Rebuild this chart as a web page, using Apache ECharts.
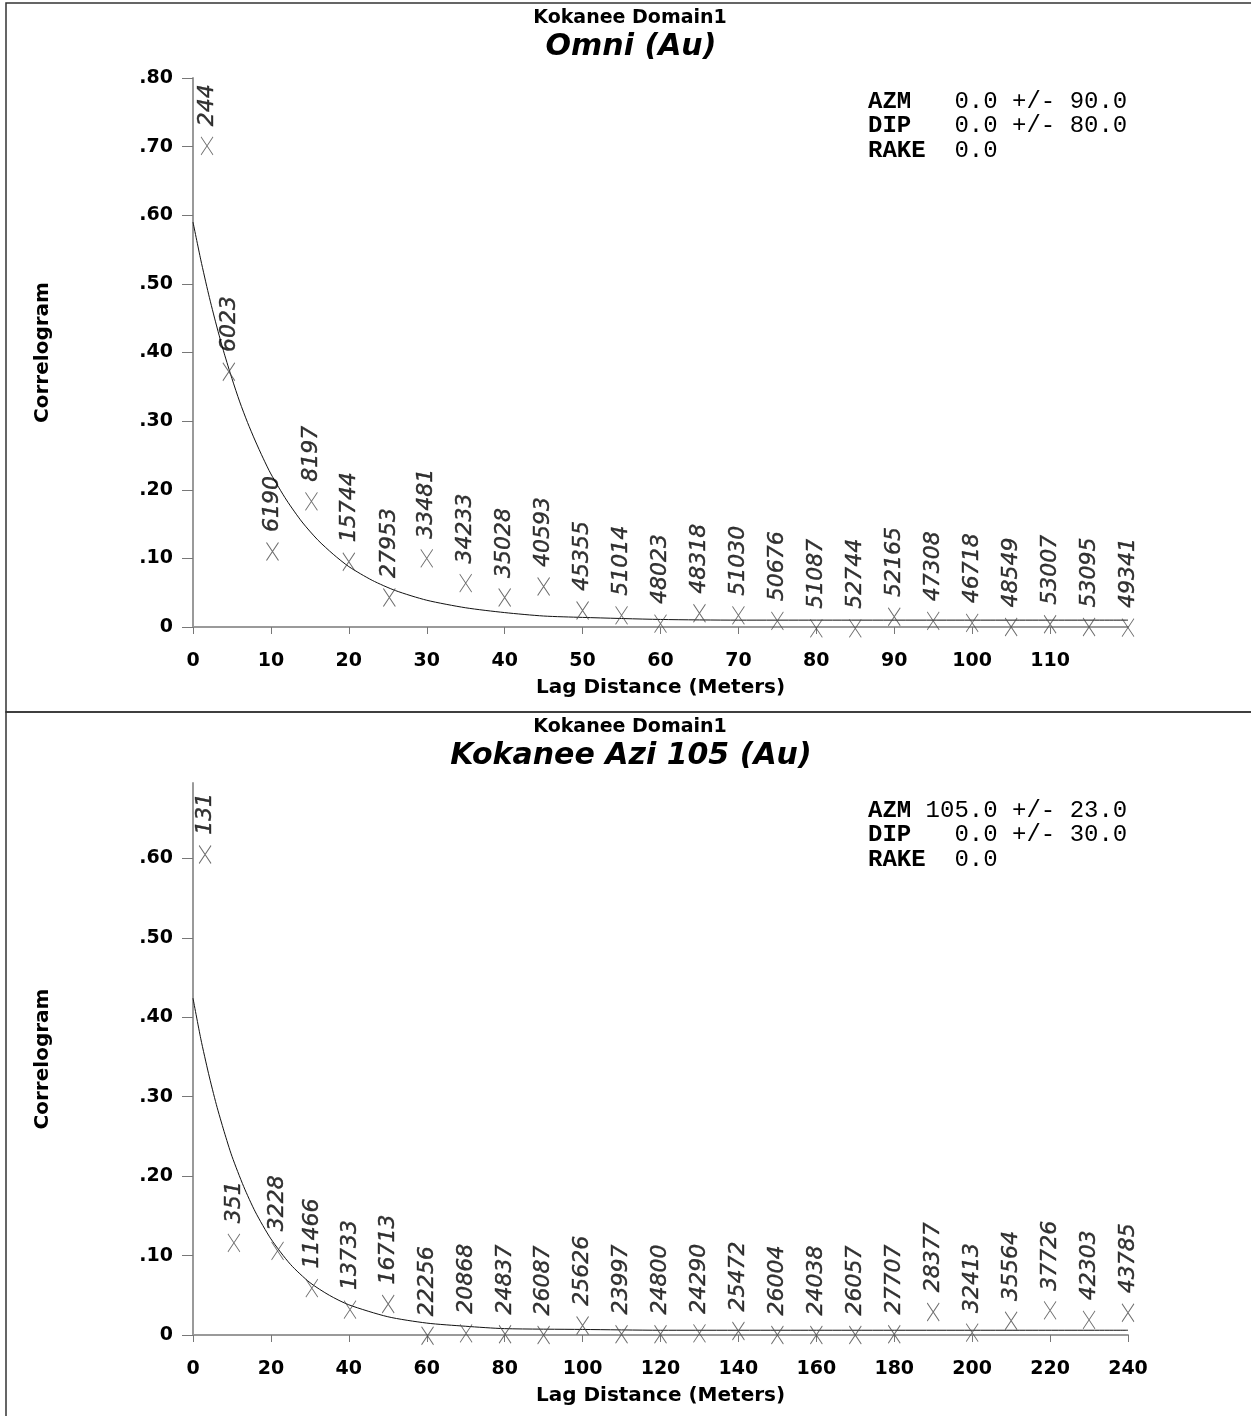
<!DOCTYPE html>
<html>
<head>
<meta charset="utf-8">
<script src="https://cdn.jsdelivr.net/npm/echarts@6/dist/echarts.min.js"></script>
<style>
  html, body { margin: 0; padding: 0; background: #fff; }
  #chart { width: 1251px; height: 1416px; }
</style>
</head>
<body>
<div id="chart"></div>
<script>
// ---- Omni (Au) experimental correlogram ----
const omniLag   = [1.8, 4.6, 10.2, 15.2, 20, 25.2, 30, 35, 40, 45, 50, 55, 60, 65, 70, 75, 80, 85, 90, 95, 100, 105, 110, 115, 120];
const omniCorr  = [0.701, 0.372, 0.110, 0.183, 0.095, 0.043, 0.100, 0.064, 0.043, 0.059, 0.024, 0.017, 0.005, 0.020, 0.017, 0.009, -0.002, -0.002, 0.015, 0.009, 0.006, 0.000, 0.004, 0.000, -0.001];
const omniPairs = [244, 6023, 6190, 8197, 15744, 27953, 33481, 34233, 35028, 40593, 45355, 51014, 48023, 48318, 51030, 50676, 51087, 52744, 52165, 47308, 46718, 48549, 53007, 53095, 49341];
// fitted model line
const omniModelLag = [0, 1, 2, 3, 4, 5, 6, 7, 8, 9, 10, 12, 14, 16, 18, 20, 23, 26, 30, 35, 40, 45, 50, 60, 70, 80, 100, 120];
const omniModel    = [0.590, 0.535, 0.485, 0.440, 0.399, 0.362, 0.328, 0.298, 0.271, 0.246, 0.223, 0.185, 0.153, 0.127, 0.106, 0.088, 0.068, 0.053, 0.039, 0.028, 0.021, 0.016, 0.014, 0.011, 0.010, 0.010, 0.010, 0.010];

// ---- Kokanee Azi 105 (Au) experimental correlogram ----
const aziLag   = [3.1, 10.5, 21.7, 30.5, 40.3, 50.1, 60.2, 70.1, 80.1, 90, 100, 110, 120, 130, 140, 150, 160, 170, 180, 190, 200, 210, 220, 230, 240];
const aziCorr  = [0.605, 0.116, 0.106, 0.059, 0.032, 0.039, -0.001, 0.002, 0.001, 0.000, 0.012, 0.001, 0.001, 0.002, 0.005, 0.000, 0.000, 0.000, 0.001, 0.029, 0.003, 0.018, 0.031, 0.019, 0.028];
const aziPairs = [131, 351, 3228, 11466, 13733, 16713, 22256, 20868, 24837, 26087, 25626, 23997, 24800, 24290, 25472, 26004, 24038, 26057, 27707, 28377, 32413, 35564, 37726, 42303, 43785];
const aziModelLag = [0, 2, 4, 6, 8, 10, 13, 16, 20, 25, 30, 35, 40, 50, 60, 70, 80, 100, 120, 160, 200, 240];
const aziModel    = [0.424, 0.373, 0.329, 0.290, 0.256, 0.225, 0.187, 0.155, 0.121, 0.089, 0.066, 0.050, 0.038, 0.023, 0.015, 0.011, 0.008, 0.007, 0.006, 0.006, 0.006, 0.006];

// ---- axis tick values ----
const omniXLabels = [0, 10, 20, 30, 40, 50, 60, 70, 80, 90, 100, 110];
const omniYTicks  = [0, 0.1, 0.2, 0.3, 0.4, 0.5, 0.6, 0.7, 0.8];
const aziXTicks   = [0, 20, 40, 60, 80, 100, 120, 140, 160, 180, 200, 220, 240];
const aziYTicks   = [0, 0.1, 0.2, 0.3, 0.4, 0.5, 0.6];

// ---- headings and search-ellipse text ----
const headTop    = ['Kokanee Domain1', 'Omni (Au)'];
const headBottom = ['Kokanee Domain1', 'Kokanee Azi 105 (Au)'];
const infoTop    = [['AZM', '  0.0 +/- 90.0'], ['DIP', '  0.0 +/- 80.0'], ['RAKE', '  0.0']];
const infoBottom = [['AZM', '105.0 +/- 23.0'], ['DIP', '  0.0 +/- 30.0'], ['RAKE', '  0.0']];

const SANS = '"DejaVu Sans", "Liberation Sans", Arial, sans-serif';
const MONO = '"Liberation Mono", "Courier New", monospace';
const CROSS = 'path://M0,0L12,18M12,0L0,18';

function fmtCorr(v) {
  if (Math.abs(v) < 1e-9) return '0';
  return v.toFixed(2).replace(/^0/, '');
}

function xAxisCfg(idx, max, interval, labelVals, tickVals) {
  return {
    gridIndex: idx, type: 'value', min: 0, max: max, interval: interval,
    name: 'Lag Distance (Meters)', nameLocation: 'middle', nameGap: 51,
    nameTextStyle: { fontFamily: SANS, fontWeight: 'bold', fontSize: 20, color: '#000' },
    axisLine: { onZero: false, lineStyle: { color: '#9a9a9a', width: 2 } },
    axisTick: { length: 7, customValues: tickVals, lineStyle: { color: '#777', width: 1 } },
    axisLabel: { margin: 25, customValues: labelVals, fontFamily: SANS, fontWeight: 'bold', fontSize: 19, color: '#000' },
    splitLine: { show: false }
  };
}

function yAxisCfg(idx, max, ticks) {
  return {
    gridIndex: idx, type: 'value', min: 0, max: max, interval: 0.1,
    name: 'Correlogram', nameLocation: 'middle', nameGap: 140, nameRotate: 90,
    nameTextStyle: { fontFamily: SANS, fontWeight: 'bold', fontSize: 20, color: '#000' },
    axisLine: { onZero: false, lineStyle: { color: '#9a9a9a', width: 2 } },
    axisTick: { length: 11, customValues: ticks, lineStyle: { color: '#777', width: 1 } },
    axisLabel: { margin: 20, customValues: ticks, formatter: fmtCorr, fontFamily: SANS, fontWeight: 'bold', fontSize: 19, color: '#000' },
    splitLine: { show: false }
  };
}

function pointsSeries(idx, lags, corr, pairs) {
  return {
    type: 'scatter', xAxisIndex: idx, yAxisIndex: idx,
    data: lags.map((h, i) => [h, corr[i], pairs[i]]),
    clip: false,
    symbol: CROSS, symbolSize: [12, 18],
    itemStyle: { color: 'rgba(0,0,0,0)', borderColor: '#4a4a4a', borderWidth: 1 },
    label: {
      show: true, position: 'top', distance: 10, rotate: 90,
      align: 'left', verticalAlign: 'middle',
      formatter: p => String(p.value[2]),
      fontFamily: SANS, fontStyle: 'italic', fontSize: 22, color: '#000',
      textBorderColor: '#000', textBorderWidth: 0.4
    },
    labelLayout: { hideOverlap: false },
    emphasis: { disabled: true },
    z: 3
  };
}

function modelSeries(idx, lags, vals) {
  return {
    type: 'line', xAxisIndex: idx, yAxisIndex: idx,
    data: lags.map((h, i) => [h, vals[i]]),
    showSymbol: false, smooth: 0.25,
    lineStyle: { color: '#111', width: 1 },
    emphasis: { disabled: true },
    z: 2
  };
}

function headings(lines, y0) {
  return [
    { type: 'text', x: 630, y: y0, style: { text: lines[0], align: 'center', verticalAlign: 'middle',
      fontFamily: SANS, fontWeight: 'bold', fontSize: 19, fill: '#000' } },
    { type: 'text', x: 631, y: y0 + 29, style: { text: lines[1], align: 'center', verticalAlign: 'middle',
      fontFamily: SANS, fontWeight: 'bold', fontStyle: 'italic', fontSize: 30, fill: '#000' } }
  ];
}

function infoBlock(rows, y0) {
  return rows.map((r, i) => ({
    type: 'text', x: 868, y: y0 + i * 24.5,
    style: {
      text: '{k|' + r[0].padEnd(4, ' ') + '}{v|' + r[1] + '}',
      align: 'left', verticalAlign: 'middle',
      rich: {
        k: { fontFamily: MONO, fontWeight: 'bold', fontSize: 24, fill: '#000' },
        v: { fontFamily: MONO, fontWeight: 'normal', fontSize: 24, fill: '#000' }
      }
    }
  }));
}

const chart = echarts.init(document.getElementById('chart'), null, { renderer: 'canvas' });
chart.setOption({
  animation: false,
  backgroundColor: '#fff',
  grid: [
    { left: 193, right: 123, top: 78, bottom: 789 },
    { left: 193, right: 123, top: 783, bottom: 81 }
  ],
  xAxis: [
    xAxisCfg(0, 120, 10, omniXLabels, omniXLabels),
    xAxisCfg(1, 240, 20, aziXTicks, aziXTicks)
  ],
  yAxis: [
    yAxisCfg(0, 0.8, omniYTicks),
    yAxisCfg(1, 0.695, aziYTicks)
  ],
  series: [
    modelSeries(0, omniModelLag, omniModel),
    pointsSeries(0, omniLag, omniCorr, omniPairs),
    modelSeries(1, aziModelLag, aziModel),
    pointsSeries(1, aziLag, aziCorr, aziPairs)
  ],
  graphic: [
    { type: 'rect', shape: { x: 6, y: 3, width: 1260, height: 709 }, style: { fill: 'none', stroke: '#333', lineWidth: 1.5 } },
    { type: 'rect', shape: { x: 6, y: 712, width: 1260, height: 720 }, style: { fill: 'none', stroke: '#333', lineWidth: 1.5 } }
  ].concat(headings(headTop, 18.5), headings(headBottom, 727), infoBlock(infoTop, 101.5), infoBlock(infoBottom, 810.5))
});
</script>
</body>
</html>
